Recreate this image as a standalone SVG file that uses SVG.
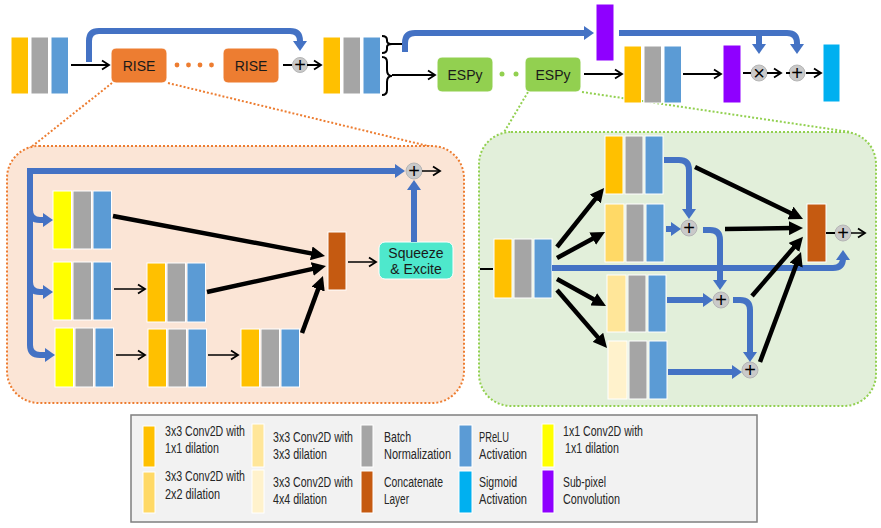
<svg xmlns="http://www.w3.org/2000/svg" width="881" height="528" viewBox="0 0 881 528">
<style>
.o{fill:#ffc000;stroke:#fff;stroke-width:1}
.y{fill:#ffff00;stroke:#fff;stroke-width:1}
.d2{fill:#ffd966;stroke:#fff;stroke-width:1}
.d3{fill:#ffe699;stroke:#fff;stroke-width:1}
.d4{fill:#fff2cc;stroke:#fff;stroke-width:1}
.g{fill:#a5a5a5;stroke:#fff;stroke-width:1}
.b{fill:#5b9bd5;stroke:#fff;stroke-width:1}
.cc{fill:#c55a11;stroke:#fff;stroke-width:1}
.pu{fill:#8f00ff;stroke:#fff;stroke-width:1}
.cy{fill:#00b0f0;stroke:#fff;stroke-width:1}
.rise{fill:#ed7d31;stroke:#fff;stroke-width:1}
.espy{fill:#92d050;stroke:#fff;stroke-width:1}
.lbl{font-family:"Liberation Sans",Arial,sans-serif;font-size:14px;fill:#1a1a1a;text-anchor:middle}
.op{fill:#c9c9c9;stroke:#b5b5b5;stroke-width:1}
.opt{font-family:"Liberation Sans",Arial,sans-serif;font-size:20px;fill:#000;text-anchor:middle}
.blue{fill:none;stroke:#4472c4;stroke-width:6;marker-end:url(#bh)}
.bl{fill:none;stroke:#4472c4;stroke-width:6}
.thick{fill:none;stroke:#000;stroke-width:4.5;marker-end:url(#kh)}
.thin{fill:none;stroke:#000;stroke-width:1.5;marker-end:url(#th)}
.thin2{fill:none;stroke:#000;stroke-width:2;marker-end:url(#th)}
.tick{fill:none;stroke:#000;stroke-width:2}
.leg{font-family:"Liberation Sans",Arial,sans-serif;font-size:13.8px;fill:#262626}
</style>
<defs>
<marker id="bh" markerUnits="userSpaceOnUse" markerWidth="10" markerHeight="14" viewBox="0 0 10 14" refX="3" refY="7" orient="auto"><path d="M0,0 L10,7 L0,14 z" fill="#4472c4"/></marker>
<marker id="kh" markerUnits="userSpaceOnUse" markerWidth="14" markerHeight="14" viewBox="0 0 14 14" refX="4" refY="7" orient="auto"><path d="M0,0 L14,7 L0,14 z" fill="#000"/></marker>
<marker id="th" markerUnits="userSpaceOnUse" markerWidth="10" markerHeight="12" viewBox="-1 -1 10 12" refX="7" refY="5" orient="auto"><path d="M0,0.5 L7,5 L0,9.5" fill="none" stroke="#000" stroke-width="1.8"/></marker>
</defs>

<!-- panels -->
<g id="rise-panel">
<line x1="112" y1="83" x2="25" y2="152" stroke="#ed7d31" stroke-width="2" stroke-dasharray="2,2"/>
<line x1="168" y1="83" x2="432" y2="147" stroke="#ed7d31" stroke-width="2" stroke-dasharray="2,2"/>
<rect x="7" y="146" width="457" height="257" rx="32" fill="#fbe5d6" stroke="#ed7d31" stroke-width="2" stroke-dasharray="2,2"/>
</g>
<g id="espy-panel">
<line x1="528" y1="92" x2="503" y2="134" stroke="#92d050" stroke-width="2" stroke-dasharray="2,2"/>
<line x1="582" y1="92" x2="850" y2="132" stroke="#92d050" stroke-width="2" stroke-dasharray="2,2"/>
<rect x="479" y="132" width="397" height="274" rx="32" fill="#e2efda" stroke="#92d050" stroke-width="2" stroke-dasharray="2,2"/>
</g>

<!-- top row nodes -->
<g id="input"><rect class="o" x="11" y="37" width="17.5" height="57"/><rect class="g" x="31" y="37" width="17.5" height="57"/><rect class="b" x="51" y="37" width="17.5" height="57"/></g>
<g id="rise1"><rect class="rise" x="111" y="48" width="56" height="35" rx="5"/><text class="lbl" x="139" y="71">RISE</text></g>
<g id="rise-dots" fill="#ed7d31"><circle cx="177" cy="65" r="2.4"/><circle cx="188.5" cy="65" r="2.4"/><circle cx="200" cy="65" r="2.4"/><circle cx="211.5" cy="65" r="2.4"/></g>
<g id="rise2"><rect class="rise" x="223" y="48" width="56" height="35" rx="5"/><text class="lbl" x="251" y="71">RISE</text></g>
<g id="add1"><circle class="op" cx="300" cy="65" r="7.5"/><text class="opt" x="300" y="72">+</text></g>
<g id="feat1"><rect class="o" x="323" y="37" width="17.5" height="57"/><rect class="g" x="343" y="37" width="17.5" height="57"/><rect class="b" x="363" y="37" width="17.5" height="57"/></g>
<g id="subpix1"><rect class="pu" x="596" y="4" width="18" height="57"/></g>
<g id="espy1"><rect class="espy" x="437" y="57" width="56" height="35" rx="5"/><text class="lbl" x="465" y="80">ESPy</text></g>
<g id="espy-dots" fill="#92d050"><circle cx="502" cy="74" r="2.5"/><circle cx="516" cy="74" r="2.5"/></g>
<g id="espy2"><rect class="espy" x="525" y="57" width="56" height="35" rx="5"/><text class="lbl" x="553" y="80">ESPy</text></g>
<g id="feat2"><rect class="o" x="624" y="46" width="17.5" height="57"/><rect class="g" x="644" y="46" width="17.5" height="57"/><rect class="b" x="664" y="46" width="17.5" height="57"/></g>
<g id="subpix2"><rect class="pu" x="723" y="45" width="18" height="58"/></g>
<g id="mul"><circle class="op" cx="759" cy="73" r="8"/><text class="opt" x="759" y="80">×</text></g>
<g id="add2"><circle class="op" cx="797" cy="73" r="8"/><text class="opt" x="797" y="80">+</text></g>
<g id="sigmoid"><rect class="cy" x="823" y="44" width="17" height="58"/></g>

<!-- left panel nodes -->
<g id="l1"><rect class="y" x="53" y="191" width="18.5" height="58"/><rect class="g" x="73" y="191" width="18.5" height="58"/><rect class="b" x="93" y="191" width="18.5" height="58"/></g>
<g id="l2"><rect class="y" x="53" y="262" width="18.5" height="58"/><rect class="g" x="73" y="262" width="18.5" height="58"/><rect class="b" x="93" y="262" width="18.5" height="58"/></g>
<g id="l3"><rect class="y" x="55" y="328" width="18.5" height="59"/><rect class="g" x="75" y="328" width="18.5" height="59"/><rect class="b" x="95" y="328" width="18.5" height="59"/></g>
<g id="l2b"><rect class="o" x="147" y="263" width="18.5" height="59"/><rect class="g" x="167" y="263" width="18.5" height="59"/><rect class="b" x="187" y="263" width="18.5" height="59"/></g>
<g id="l3b"><rect class="o" x="148" y="329" width="18.5" height="58"/><rect class="g" x="168" y="329" width="18.5" height="58"/><rect class="b" x="188" y="329" width="18.5" height="58"/></g>
<g id="l3c"><rect class="o" x="241" y="329" width="18.5" height="58"/><rect class="g" x="261" y="329" width="18.5" height="58"/><rect class="b" x="281" y="329" width="18.5" height="58"/></g>
<g id="lconcat"><rect class="cc" x="328" y="232" width="18" height="58"/></g>
<g id="squeeze"><rect x="379" y="242" width="74" height="37" rx="6" fill="#4ee8cc" stroke="#fff" stroke-width="1"/><text class="lbl" x="416" y="258">Squeeze</text><text class="lbl" x="416" y="274">&amp; Excite</text></g>
<g id="ladd"><circle class="op" cx="414" cy="171" r="8"/><text class="opt" x="414" y="178">+</text></g>

<!-- right panel nodes -->
<g id="rin"><rect class="o" x="494" y="239" width="18" height="59"/><rect class="g" x="514" y="239" width="18" height="59"/><rect class="b" x="534" y="239" width="18" height="59"/></g>
<g id="ra"><rect class="o" x="605" y="136" width="18" height="58"/><rect class="g" x="625" y="136" width="18" height="58"/><rect class="b" x="645" y="136" width="18" height="58"/></g>
<g id="rb"><rect class="d2" x="605" y="204" width="19" height="58"/><rect class="g" x="626" y="204" width="18" height="58"/><rect class="b" x="646" y="204" width="18" height="58"/></g>
<g id="rc"><rect class="d3" x="607" y="275" width="19" height="57"/><rect class="g" x="628" y="275" width="18" height="57"/><rect class="b" x="648" y="275" width="18" height="57"/></g>
<g id="rd"><rect class="d4" x="608" y="341" width="19" height="58"/><rect class="g" x="629" y="341" width="18" height="58"/><rect class="b" x="649" y="341" width="18" height="58"/></g>
<g id="rconcat"><rect class="cc" x="807" y="204" width="19" height="58"/></g>
<g id="raddb"><circle class="op" cx="689" cy="228" r="8"/><text class="opt" x="689" y="235">+</text></g>
<g id="raddc"><circle class="op" cx="721" cy="300" r="8"/><text class="opt" x="721" y="307">+</text></g>
<g id="raddd"><circle class="op" cx="750" cy="370" r="8"/><text class="opt" x="750" y="377">+</text></g>
<g id="raddout"><circle class="op" cx="843" cy="233" r="8"/><text class="opt" x="843" y="240">+</text></g>

<!-- connectors -->
<g id="connectors">
<!-- top row -->
<path class="blue" d="M89,62 V41 Q89,31 99,31 H290 Q300,31 300,41 V44"/>
<path class="thin2" d="M71,65 H109"/>
<path class="tick" d="M283,65 H292"/>
<path class="thin2" d="M307,65 H321"/>
<path d="M382,36 Q387,36 387,40 V41 Q387,44 392,44 Q387,44 387,47 V49 Q387,53 382,53" fill="none" stroke="#000" stroke-width="2"/>
<path d="M382,57 Q387,57 387,62 V70 Q387,76 392,76 Q387,76 387,82 V90 Q387,95 382,95" fill="none" stroke="#000" stroke-width="2"/>
<path class="tick" d="M392,44 H405"/>
<path class="blue" d="M405,52 V43 Q405,33 415,33 H587"/>
<path class="thin2" d="M392,75 H435"/>
<path class="thin2" d="M584,74 H622"/>
<path class="thin2" d="M683,74 H721"/>
<path class="bl" d="M619,33 H787 Q797,33 797,43 V47" style="marker-end:url(#bh)"/>
<path class="blue" d="M759,33 V47"/>
<path class="tick" d="M743,73 H751"/>
<path class="thin2" d="M767,73 H781"/>
<path class="tick" d="M786,73 H790"/>
<path class="thin2" d="M806,73 H821"/>
<!-- left panel -->
<path class="blue" d="M27,171 H398"/>
<path class="blue" d="M30,168 V345 Q30,355 40,355 H48"/>
<path class="blue" d="M30,210 Q30,220 40,220 H46"/>
<path class="blue" d="M30,282 Q30,292 40,292 H46"/>
<path class="thin" d="M114,289 H145"/>
<path class="thin" d="M116,355 H145"/>
<path class="thin" d="M208,355 H238"/>
<path class="thick" d="M113,216 L315.2,254.1"/>
<path class="thick" d="M207,292 L316.2,268.1"/>
<path class="thick" d="M302,333 L319.5,285.4"/>
<path class="thin" d="M348,262 H376"/>
<path class="blue" d="M414,242 V187"/>
<path class="thin" d="M422,171 H440"/>
<!-- right panel -->
<path class="tick" d="M480,269 H493"/>
<path class="thick" d="M557,247 L597.8,195.8"/>
<path class="thick" d="M557,258 L596.2,236.8"/>
<path class="thick" d="M557,279 L597.2,301.2"/>
<path class="thick" d="M557,290 L600.5,340.4"/>
<path class="blue" d="M552,268 H833 Q843,268 843,258 V257"/>
<path class="blue" d="M664,160 H679 Q689,160 689,170 V212"/>
<path class="blue" d="M666,229 H674"/>
<path class="blue" d="M703,230 H710 Q720,230 720,240 V283"/>
<path class="blue" d="M667,300 H706"/>
<path class="blue" d="M733,300 H740 Q750,300 750,310 V355"/>
<path class="blue" d="M668,372 H735"/>
<path class="thick" d="M695,167 L794,214.7"/>
<path class="thick" d="M725,229 L793,228.1"/>
<path class="thick" d="M752,296 L796.5,244.4"/>
<path class="thick" d="M760,362 L797.5,261.4"/>
<path class="tick" d="M826,233 H835"/>
<path class="thin" d="M851,233 H865"/>
</g>

<!-- legend -->
<g id="legend">
<rect x="131" y="415" width="626" height="107" fill="#f2f2f2" stroke="#7f7f7f" stroke-width="1.5"/>
<rect class="o" x="143" y="426" width="12" height="41" stroke="none"/>
<rect class="d2" x="143" y="472" width="12" height="41" stroke="none"/>
<rect class="d3" x="252" y="424" width="12" height="43" stroke="none"/>
<rect class="d4" x="252" y="470" width="12" height="43" stroke="none"/>
<rect class="g" x="361" y="425" width="12" height="42" stroke="none"/>
<rect class="cc" x="361" y="471" width="12" height="42" stroke="none"/>
<rect class="b" x="459" y="425" width="13" height="42" stroke="none"/>
<rect class="cy" x="459" y="471" width="13" height="42" stroke="none"/>
<rect class="y" x="542" y="424" width="12" height="43" stroke="none"/>
<rect class="pu" x="542" y="470" width="12" height="43" stroke="none"/>
<text class="leg" x="165" y="436" textLength="80" lengthAdjust="spacingAndGlyphs">3x3 Conv2D with</text>
<text class="leg" x="165" y="453" textLength="54" lengthAdjust="spacingAndGlyphs">1x1 dilation</text>
<text class="leg" x="165" y="481" textLength="80" lengthAdjust="spacingAndGlyphs">3x3 Conv2D with</text>
<text class="leg" x="165" y="499" textLength="55" lengthAdjust="spacingAndGlyphs">2x2 dilation</text>
<text class="leg" x="273" y="442" textLength="80" lengthAdjust="spacingAndGlyphs">3x3 Conv2D with</text>
<text class="leg" x="273" y="459" textLength="54" lengthAdjust="spacingAndGlyphs">3x3 dilation</text>
<text class="leg" x="273" y="487" textLength="80" lengthAdjust="spacingAndGlyphs">3x3 Conv2D with</text>
<text class="leg" x="273" y="504" textLength="54" lengthAdjust="spacingAndGlyphs">4x4 dilation</text>
<text class="leg" x="384" y="442" textLength="27" lengthAdjust="spacingAndGlyphs">Batch</text>
<text class="leg" x="384" y="459" textLength="67" lengthAdjust="spacingAndGlyphs">Normalization</text>
<text class="leg" x="384" y="487" textLength="59" lengthAdjust="spacingAndGlyphs">Concatenate</text>
<text class="leg" x="384" y="504" textLength="25" lengthAdjust="spacingAndGlyphs">Layer</text>
<text class="leg" x="479" y="442" textLength="30" lengthAdjust="spacingAndGlyphs">PReLU</text>
<text class="leg" x="479" y="459" textLength="48" lengthAdjust="spacingAndGlyphs">Activation</text>
<text class="leg" x="479" y="487" textLength="38" lengthAdjust="spacingAndGlyphs">Sigmoid</text>
<text class="leg" x="479" y="504" textLength="48" lengthAdjust="spacingAndGlyphs">Activation</text>
<text class="leg" x="563" y="436" textLength="80" lengthAdjust="spacingAndGlyphs">1x1 Conv2D with</text>
<text class="leg" x="565" y="453" textLength="54" lengthAdjust="spacingAndGlyphs">1x1 dilation</text>
<text class="leg" x="563" y="487" textLength="43" lengthAdjust="spacingAndGlyphs">Sub-pixel</text>
<text class="leg" x="563" y="504" textLength="57" lengthAdjust="spacingAndGlyphs">Convolution</text>
</g>
</svg>
